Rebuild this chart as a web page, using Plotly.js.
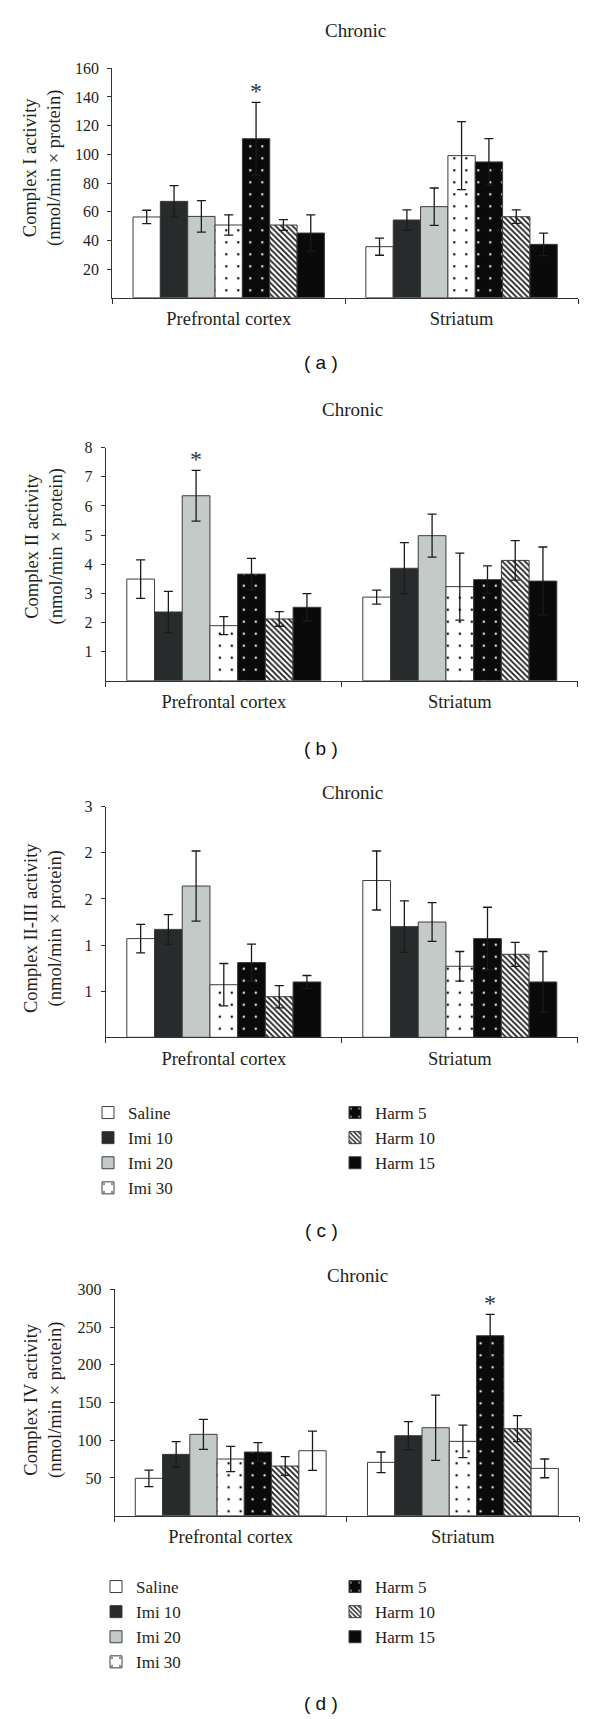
<!DOCTYPE html>
<html><head><meta charset="utf-8">
<script src="https://cdn.plot.ly/plotly-3.0.1.min.js"></script>
<style>html,body{margin:0;padding:0;background:#fff}</style>
</head><body><div id="chart" style="width:600px;height:1719px"></div>
<script>
// ---------------- DATA ----------------
const categories = ['Prefrontal cortex', 'Striatum'];
const seriesNames = ['Saline', 'Imi 10', 'Imi 20', 'Imi 30', 'Harm 5', 'Harm 10', 'Harm 15'];

// (a) Complex I activity
const c1PFC    = [56.3, 67.2, 56.7, 50.7, 110.9, 50.7, 45.1];
const c1PFCerr = [4.7, 11.0, 11.0, 7.0, 25.4, 3.7, 12.6];
const c1STR    = [35.6, 54.2, 63.5, 99.1, 94.7, 56.5, 37.2];
const c1STRerr = [6.0, 7.0, 13.0, 23.7, 16.3, 4.7, 7.9];

// (b) Complex II activity
const c2PFC    = [3.49, 2.36, 6.35, 1.89, 3.66, 2.12, 2.52];
const c2PFCerr = [0.66, 0.71, 0.87, 0.31, 0.54, 0.25, 0.47];
const c2STR    = [2.87, 3.86, 4.98, 3.23, 3.47, 4.13, 3.42];
const c2STRerr = [0.24, 0.88, 0.74, 1.15, 0.47, 0.68, 1.17];

// (c) Complex II-III activity
const c23PFC    = [1.07, 1.17, 1.64, 0.57, 0.81, 0.44, 0.60];
const c23PFCerr = [0.155, 0.16, 0.38, 0.23, 0.20, 0.12, 0.07];
const c23STR    = [1.70, 1.20, 1.25, 0.77, 1.07, 0.90, 0.60];
const c23STRerr = [0.32, 0.28, 0.21, 0.16, 0.34, 0.13, 0.33];

// (d) Complex IV activity
const c4PFC    = [49.5, 81.3, 107.8, 75.1, 84.4, 65.8, 86.1];
const c4PFCerr = [11.0, 16.8, 19.9, 16.8, 12.4, 12.4, 26.0];
const c4STR    = [70.7, 106.0, 116.6, 98.5, 238.5, 115.3, 62.7];
const c4STRerr = [13.7, 18.6, 43.3, 21.6, 28.3, 17.2, 12.4];

// tick labels of panel (c) as printed
const c23TickVals = [0.5, 1, 1.5, 2, 2.5];
const c23TickText = ['1', '1', '2', '2', '3'];

// significance marks: [panel, category index, series index]
const asterisks = [[0, 0, 4], [1, 0, 2], [3, 1, 4]];

// ---------------- STYLE ----------------
const W = 600, H = 1719;
const FONT = 'Liberation Serif, Times New Roman, serif';
const SANS = 'Liberation Sans, Arial, sans-serif';
const TXT = '#231f20';
const BARGAP = 0.178;
const px = v => v / W;
const py = v => 1 - v / H;

const fills = ['#ffffff', '#272b2c', '#c4cac7', '#ffffff', '#0a0a0a', '#ffffff', '#0a0a0a'];
const patterns = [null,
  null, null,
  {shape: '.', fgcolor: '#111', bgcolor: '#ffffff', size: 12, solidity: 0.035},
  {shape: '.', fgcolor: '#dcdcdc', bgcolor: '#0a0a0a', size: 12, solidity: 0.035},
  {shape: '\\', fgcolor: '#111', bgcolor: '#ffffff', size: 4, solidity: 0.4},
  null];

const panels = [
  {pfc: c1PFC, pfcErr: c1PFCerr, str: c1STR, strErr: c1STRerr,
   ytitle: 'Complex I activity<br>(nmol/min × protein)', label: '( a )',
   x0: 112.3, x1: 578, yb: 297.7, yt: 68.3, range: [0, 160], tick0: 20, dtick: 20,
   titleX: 355, titleY: 30, ytX: 43, ytY: 168, labY: 363},
  {pfc: c2PFC, pfcErr: c2PFCerr, str: c2STR, strErr: c2STRerr,
   ytitle: 'Complex II activity<br>(nmol/min × protein)', label: '( b )',
   x0: 105.8, x1: 577.8, yb: 680.7, yt: 447.7, range: [0, 8], tick0: 1, dtick: 1,
   titleX: 352.7, titleY: 410, ytX: 43.5, ytY: 547, labY: 748},
  {pfc: c23PFC, pfcErr: c23PFCerr, str: c23STR, strErr: c23STRerr,
   ytitle: 'Complex II-III activity<br>(nmol/min × protein)', label: '( c )',
   x0: 105.8, x1: 577.8, yb: 1037.3, yt: 806.7, range: [0, 2.5], tickvals: c23TickVals, ticktext: c23TickText,
   titleX: 352.7, titleY: 792, ytX: 44, ytY: 928, labY: 1230,
   legends: ['legend', 'legend2']},
  {pfc: c4PFC, pfcErr: c4PFCerr, str: c4STR, strErr: c4STRerr,
   ytitle: 'Complex IV activity<br>(nmol/min × protein)', label: '( d )',
   x0: 114.6, x1: 579, yb: 1515.7, yt: 1289.3, range: [0, 300], tick0: 50, dtick: 50,
   titleX: 357.3, titleY: 1275, ytX: 43, ytY: 1400, labY: 1703,
   legends: ['legend3', 'legend4'], fillOverride: {6: '#ffffff'}}
];

const traces = [];
const layout = {
  width: W, height: H, margin: {l: 0, r: 0, t: 0, b: 0},
  paper_bgcolor: '#fff', plot_bgcolor: 'rgba(0,0,0,0)',
  barmode: 'group', bargap: BARGAP, bargroupgap: 0,
  font: {family: FONT, color: TXT, size: 16},
  showlegend: true,
  annotations: []
};

panels.forEach((p, i) => {
  const xa = i === 0 ? 'x' : 'x' + (i + 1);
  const ya = i === 0 ? 'y' : 'y' + (i + 1);
  const xk = i === 0 ? 'xaxis' : 'xaxis' + (i + 1);
  const yk = i === 0 ? 'yaxis' : 'yaxis' + (i + 1);
  seriesNames.forEach((name, s) => {
    const fill = (p.fillOverride && p.fillOverride[s]) || fills[s];
    const marker = {color: fill, line: {color: '#3c3c3c', width: 1}};
    if (patterns[s]) marker.pattern = Object.assign({}, patterns[s], {fillmode: 'replace'});
    const t = {
      type: 'bar', name: name, x: categories,
      y: [p.pfc[s], p.str[s]],
      error_y: {type: 'data', array: [p.pfcErr[s], p.strErr[s]], visible: true,
                color: '#1a1a1a', thickness: 1.3, width: 4.5},
      xaxis: xa, yaxis: ya, marker: marker, hoverinfo: 'skip',
      showlegend: false
    };
    if (p.legends) {
      const overridden = p.fillOverride && p.fillOverride[s];
      if (!overridden) {
        t.showlegend = true;
        t.legend = s < 4 ? p.legends[0] : p.legends[1];
      }
    }
    traces.push(t);
  });
  layout[xk] = {
    domain: [px(p.x0), px(p.x1)], anchor: ya, type: 'category',
    categoryorder: 'array', categoryarray: categories, range: [-0.5, 1.5],
    showline: true, linecolor: '#333', linewidth: 1, showgrid: false, zeroline: false,
    ticks: 'outside', tickson: 'boundaries', ticklen: 5, tickcolor: '#333', tickwidth: 1,
    tickfont: {family: FONT, size: 18.5, color: TXT}, ticklabelstandoff: 4, fixedrange: true
  };
  const yax = {
    domain: [py(p.yb), py(p.yt)], anchor: xa, range: p.range,
    showline: true, linecolor: '#333', linewidth: 1, showgrid: false, zeroline: false,
    ticks: 'outside', ticklen: 4, tickcolor: '#333', tickwidth: 1,
    tickfont: {family: FONT, size: 16, color: TXT}, ticklabelstandoff: 5, fixedrange: true,
    tickmode: 'array'
  };
  if (p.tickvals) { yax.tickvals = p.tickvals; yax.ticktext = p.ticktext; }
  else {
    const tv = [];
    for (let v = p.tick0; v <= p.range[1] + 1e-9; v += p.dtick) tv.push(+v.toFixed(6));
    yax.tickvals = tv;
  }
  layout[yk] = yax;

  layout.annotations.push(
    {text: 'Chronic', xref: 'paper', yref: 'paper', x: px(p.titleX), y: py(p.titleY),
     xanchor: 'center', yanchor: 'middle', showarrow: false, font: {family: FONT, size: 19, color: TXT}},
    {text: p.ytitle, xref: 'paper', yref: 'paper', x: px(p.ytX), y: py(p.ytY), textangle: -90,
     xanchor: 'center', yanchor: 'middle', showarrow: false, font: {family: FONT, size: 18.5, color: TXT}},
    {text: p.label, xref: 'paper', yref: 'paper', x: px(321), y: py(p.labY),
     xanchor: 'center', yanchor: 'middle', showarrow: false, font: {family: SANS, size: 19, color: '#111'}}
  );
});

// legend entry for Harm 15 in panel (d): its swatch is black although the bars there are white.
// The trace sits on a hidden axis pair whose range keeps its bars out of view.
traces.push({type: 'bar', name: seriesNames[6], x: categories, y: [c4PFC[6], c4STR[6]],
  xaxis: 'x5', yaxis: 'y5', hoverinfo: 'skip',
  marker: {color: fills[6], line: {color: '#3c3c3c', width: 1}}, legend: 'legend4', showlegend: true});
layout.xaxis5 = {domain: [0, 0.005], anchor: 'y5', visible: false, type: 'category'};
layout.yaxis5 = {domain: [0, 0.002], anchor: 'x5', visible: false, range: [-20, -10]};

// asterisks
asterisks.forEach(([pi, c, s]) => {
  const p = panels[pi];
  const vals = c === 0 ? p.pfc : p.str;
  const errs = c === 0 ? p.pfcErr : p.strErr;
  const gw = 1 - BARGAP;
  layout.annotations.push({
    text: '*', xref: pi === 0 ? 'x' : 'x' + (pi + 1), yref: pi === 0 ? 'y' : 'y' + (pi + 1),
    x: c - gw / 2 + (s + 0.5) * gw / seriesNames.length, y: vals[s] + errs[s],
    xanchor: 'center', yanchor: 'bottom', yshift: -4, showarrow: false,
    font: {family: FONT, size: 24, color: '#333'}
  });
});

const legBase = {bgcolor: 'rgba(0,0,0,0)', borderwidth: 0, orientation: 'v',
  xanchor: 'left', yanchor: 'top', tracegroupgap: 0, itemwidth: 30,
  font: {family: FONT, size: 17, color: TXT}, itemclick: false, itemdoubleclick: false};
layout.legend  = Object.assign({}, legBase, {x: px(88),  y: py(1095)});
layout.legend2 = Object.assign({}, legBase, {x: px(335), y: py(1095)});
layout.legend3 = Object.assign({}, legBase, {x: px(96),  y: py(1569)});
layout.legend4 = Object.assign({}, legBase, {x: px(335), y: py(1569)});

Plotly.newPlot('chart', traces, layout, {staticPlot: true, displayModeBar: false});
</script></body></html>
